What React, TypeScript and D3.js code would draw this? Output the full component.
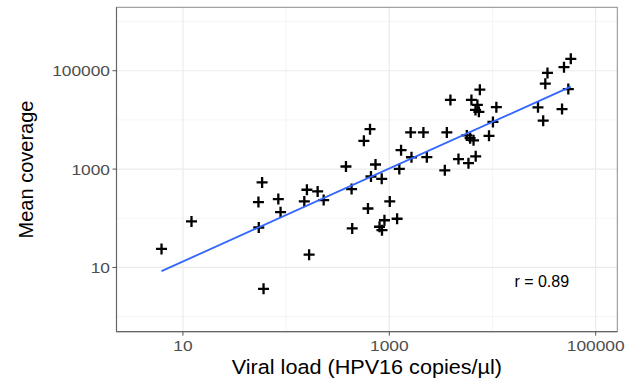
import React from 'react';
import { scaleLog, mean, sum } from 'd3';

// viral load (HPV16 copies/µl) and mean coverage
const viralLoad = [
  6.2, 12.1, 58.5, 53.9, 84, 88.3, 54.3, 60.4, 167,
  159, 202, 150, 231, 380, 431, 437, 650, 567, 664,
  735, 844, 621, 1010, 897, 1190, 804, 849, 1250, 1300,
  1640, 2310, 4680, 5850, 6870, 3450, 1610, 2140, 3610, 5640,
  6070, 6550, 9250, 10100, 10900, 3910, 6250, 7140, 6840, 7380,
  7540,
  57400, 49300, 34100, 32500, 54300, 27600, 47200, 31000
];
const meanCoverage = [
  23.8, 86.3, 535, 214, 246, 133, 64.9, 3.67, 18.2,
  380, 351, 220, 235, 1130, 393, 62.2, 6490, 3760, 708,
  1240, 635, 158, 220, 91.2, 97.9, 67.3, 57.2, 1010, 2430,
  1740, 1750, 1600, 1320, 1820, 945, 5580, 5580, 5580, 4850,
  4260, 3850, 4740, 9120, 18200, 25500, 25500, 20200, 16000, 14600,
  41300,
  175000, 118000, 90200, 54700, 42300, 18000, 16600, 9660
];

const xMajor = [10, 1000, 100000];
const xMinor = [100, 10000];
const yMajor = [10, 1000, 100000];
const yMinor = [1, 100, 10000, 1000000];
const xDomain = [2.27, 162000];
const yDomain = [0.494, 1950000];
const corrLabel = 'r = 0.89';
const corrAt = [30000, 4.1]; // where the r label sits, in data units
const xTitle = 'Viral load (HPV16 copies/µl)';
const yTitle = 'Mean coverage';

const W = 638;
const H = 382;
const panel = { left: 116.5, right: 617.3, top: 7.3, bottom: 331.7 };
const STRETCH = 1.12;

const App = () => {
  const x = scaleLog().domain(xDomain).range([panel.left, panel.right]);
  const y = scaleLog().domain(yDomain).range([panel.bottom, panel.top]);

  // lm fit in log-log space, like geom_smooth(method = 'lm')
  const lx = viralLoad.map(v => Math.log10(v));
  const ly = meanCoverage.map(v => Math.log10(v));
  const mx = mean(lx);
  const my = mean(ly);
  const slope =
    sum(lx.map((v, i) => (v - mx) * (ly[i] - my))) /
    sum(lx.map(v => (v - mx) * (v - mx)));
  const icpt = my - slope * mx;
  const x0 = Math.min(...viralLoad);
  const x1 = Math.max(...viralLoad);
  const fit = (v) => Math.pow(10, icpt + slope * Math.log10(v));

  const arm = 5.5;
  const font = '"Liberation Sans", Arial, sans-serif';

  return (
    <svg
      width={W}
      height={H}
      style={{ position: 'absolute', left: 0, top: 0, display: 'block' }}
      fontFamily={font}
    >
      <rect width={W} height={H} fill="#fff" />

      {/* grid */}
      {yMinor.map(t => (
        <line key={'ym' + t} x1={panel.left} x2={panel.right} y1={y(t)} y2={y(t)}
          stroke="#F2F2F2" strokeWidth={0.8} />
      ))}
      {xMinor.map(t => (
        <line key={'xm' + t} y1={panel.top} y2={panel.bottom} x1={x(t)} x2={x(t)}
          stroke="#F2F2F2" strokeWidth={0.8} />
      ))}
      {yMajor.map(t => (
        <line key={'yM' + t} x1={panel.left} x2={panel.right} y1={y(t)} y2={y(t)}
          stroke="#EBEBEB" strokeWidth={1.2} />
      ))}
      {xMajor.map(t => (
        <line key={'xM' + t} y1={panel.top} y2={panel.bottom} x1={x(t)} x2={x(t)}
          stroke="#EBEBEB" strokeWidth={1.2} />
      ))}

      {/* points */}
      {viralLoad.map((v, i) => {
        const cx = x(v);
        const cy = y(meanCoverage[i]);
        return (
          <path key={'p' + i}
            d={`M${cx - arm},${cy}H${cx + arm}M${cx},${cy - arm}V${cy + arm}`}
            stroke="#000" strokeWidth={2.3} fill="none" />
        );
      })}

      {/* fitted line */}
      <line x1={x(x0)} y1={y(fit(x0))} x2={x(x1)} y2={y(fit(x1))}
        stroke="#3366FF" strokeWidth={1.8} />

      <text transform={`translate(${x(corrAt[0])},${y(corrAt[1])})`} fontSize={16}
        textAnchor="middle" fill="#000">{corrLabel}</text>

      {/* panel border */}
      <rect x={panel.left} y={panel.top} width={panel.right - panel.left}
        height={panel.bottom - panel.top} fill="none" stroke="#8C8C8C" strokeWidth={1} />
      <line x1={panel.left} x2={panel.left} y1={panel.top} y2={panel.bottom}
        stroke="#666" strokeWidth={1.2} />
      <line x1={panel.left} x2={panel.right} y1={panel.bottom} y2={panel.bottom}
        stroke="#666" strokeWidth={1.2} />

      {/* x axis */}
      {xMajor.map(t => (
        <g key={'xt' + t}>
          <line x1={x(t)} x2={x(t)} y1={panel.bottom} y2={panel.bottom + 4}
            stroke="#555" strokeWidth={1} />
          <text transform={`translate(${x(t)},${351}) scale(${STRETCH},1)`}
            fontSize={15.5} textAnchor="middle" fill="#4D4D4D">{t}</text>
        </g>
      ))}
      {/* y axis */}
      {yMajor.map(t => (
        <g key={'yt' + t}>
          <line x1={panel.left - 4} x2={panel.left} y1={y(t)} y2={y(t)}
            stroke="#555" strokeWidth={1} />
          <text transform={`translate(${panel.left - 6.5},${y(t) + 5.5}) scale(${STRETCH},1)`}
            fontSize={15.5} textAnchor="end" fill="#4D4D4D">{t}</text>
        </g>
      ))}

      <text transform={`translate(${(panel.left + panel.right) / 2},${373.5}) scale(${STRETCH},1)`}
        fontSize={19.3} textAnchor="middle" fill="#000">{xTitle}</text>
      <text transform={`translate(${33},${(panel.top + panel.bottom) / 2}) rotate(-90)`}
        fontSize={20} textAnchor="middle" fill="#000">{yTitle}</text>
    </svg>
  );
};

export default App;
